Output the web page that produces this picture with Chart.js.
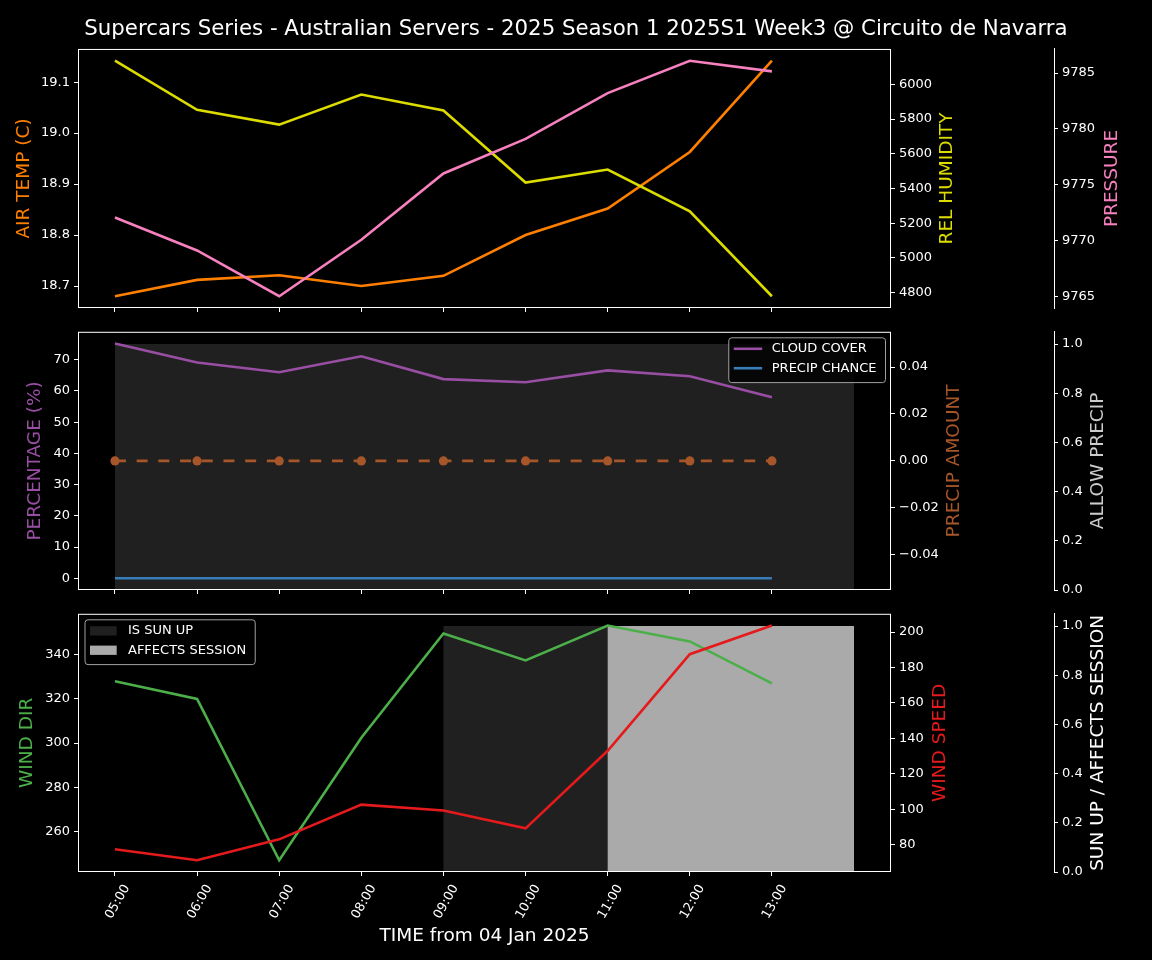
<!DOCTYPE html>
<html lang="en">
<head>
<meta charset="utf-8">
<title>Supercars Series weather</title>
<script src="https://cdn.jsdelivr.net/npm/chart.js@4.4.1/dist/chart.umd.min.js"></script>
<style>
    html, body { margin: 0; padding: 0; background: #000; }
    #board { position: relative; width: 1152px; height: 960px; background: #000; overflow: hidden; }
    #board canvas { position: absolute; left: 0; }
</style>
</head>
<body>
<div id="board">
    <canvas id="chartAir" width="1152" height="320" style="top:0px"></canvas>
    <canvas id="chartPrecip" width="1152" height="282" style="top:320px"></canvas>
    <canvas id="chartWind" width="1152" height="358" style="top:602px"></canvas>
</div>
<script>
'use strict';

// hours shown on the x axis, and the hours the shaded spans run over
var timeLabels = ['05:00', '06:00', '07:00', '08:00', '09:00', '10:00', '11:00', '12:00', '13:00'];
var spanTimes = ['05:00', '06:00', '07:00', '08:00', '09:00', '10:00', '11:00', '12:00', '13:00', '14:00'];

// top panel
var airTemp = [18.68, 18.712, 18.721, 18.70, 18.72, 18.80, 18.852, 18.963, 19.142];
var relHumidity = [6136, 5853, 5768, 5941, 5849, 5434, 5509, 5268, 4779];
var pressure = [9772.05, 9769.1, 9765.0, 9770.06, 9776.0, 9779.1, 9783.2, 9786.1, 9785.15];

// middle panel
var cloudCover = [75.2, 69.1, 66.0, 71.1, 63.8, 62.8, 66.6, 64.7, 58.0];
var precipChance = [0, 0, 0, 0, 0, 0, 0, 0, 0];
var precipAmount = [0, 0, 0, 0, 0, 0, 0, 0, 0];
var allowPrecip = [1, 1, 1, 1, 1, 1, 1, 1, 1, 1];

// bottom panel
var windDir = [328, 320, 247, 302.4, 349.6, 337.4, 353.2, 346, 327];
var windSpeed = [77.4, 71.2, 83, 102.6, 99.3, 89.2, 133, 187.5, 203.7];
var isSunUp = [0, 0, 0, 0, 1, 1, 1, 1, 1, 1];
var affectsSession = [0, 0, 0, 0, 0, 0, 1, 1, 1, 1];

// tick labels
var airTempTicks = [18.7, 18.8, 18.9, 19.0, 19.1];
var humidityTicks = [4800, 5000, 5200, 5400, 5600, 5800, 6000];
var pressureTicks = [9765, 9770, 9775, 9780, 9785];
var percentTicks = [0, 10, 20, 30, 40, 50, 60, 70];
var precipAmountTicks = [-0.04, -0.02, 0, 0.02, 0.04];
var unitTicks = [0, 0.2, 0.4, 0.6, 0.8, 1.0];
var windDirTicks = [260, 280, 300, 320, 340];
var windSpeedTicks = [80, 100, 120, 140, 160, 180, 200];

Chart.defaults.font.family = '"DejaVu Sans", sans-serif';
Chart.defaults.color = '#ffffff';

var startHour = +timeLabels[0].split(':')[0];

function hourOf(t) {
    var p = t.split(':');
    return +p[0] + p[1] / 60 - startHour;
}

function series(times, values) {
    return values.map(function (v, i) {
        return { x: hourOf(times[i]), y: v };
    });
}

// matplotlib style 5% autoscale margin
function padRange(values) {
    var lo = Math.min.apply(null, values), hi = Math.max.apply(null, values);
    var m = (hi - lo) * 0.05;
    return { min: lo - m, max: hi + m };
}

function fmt(v, digits) {
    return v.toFixed(digits).replace('-', '\u2212');
}

var xRange = padRange(spanTimes.map(hourOf));

function timeAxis(showLabels) {
    return {
        type: 'linear',
        min: xRange.min,
        max: xRange.max,
        afterBuildTicks: function (scale) {
            scale.ticks = timeLabels.map(function (t) { return { value: hourOf(t) }; });
        },
        afterFit: function (scale) { scale.height = showLabels ? 88 : 12; },
        ticks: {
            display: showLabels,
            autoSkip: false,
            color: '#ffffff',
            font: { size: 12.8 },
            minRotation: 60,
            maxRotation: 60,
            labelOffset: 12,
            padding: 6,
            callback: function (v, i) { return timeLabels[i]; }
        },
        grid: { drawOnChartArea: false, drawTicks: true, tickLength: 4, tickColor: '#ffffff', color: '#ffffff' },
        border: { display: false },
        title: {
            display: showLabels,
            text: 'TIME from 04 Jan 2025',
            color: '#ffffff',
            font: { size: 18.5 },
            padding: { top: 0, bottom: 13 }
        }
    };
}

function sideAxis(position, weight, width, tickValues, range, digits, spine) {
    return {
        type: 'linear',
        position: position,
        weight: weight,
        min: range.min,
        max: range.max,
        afterBuildTicks: function (scale) {
            scale.ticks = tickValues.map(function (v) { return { value: v }; });
        },
        afterFit: function (scale) { scale.width = width; },
        ticks: {
            color: '#ffffff',
            font: { size: 13 },
            padding: 4,
            callback: function (v) { return fmt(v, digits); }
        },
        grid: { drawOnChartArea: false, drawTicks: true, tickLength: 4, tickColor: '#ffffff', color: '#ffffff' },
        border: { display: spine, color: '#ffffff', width: 1 }
    };
}

function lineSet(label, values, axis, color, order, extra) {
    return Object.assign({
        label: label,
        data: series(timeLabels, values),
        yAxisID: axis,
        borderColor: color,
        backgroundColor: color,
        borderWidth: 2.6,
        pointRadius: 0,
        fill: false,
        tension: 0,
        order: order
    }, extra || {});
}

function spanSet(label, values, axis, color, order) {
    return {
        label: label,
        data: series(spanTimes, values),
        yAxisID: axis,
        backgroundColor: color,
        borderColor: 'rgba(0,0,0,0)',
        borderWidth: 0,
        pointRadius: 0,
        stepped: true,
        fill: 'origin',
        order: order
    };
}

var framePlugin = {
    id: 'frame',
    afterDatasetsDraw: function (chart) {
        var a = chart.chartArea, ctx = chart.ctx;
        ctx.save();
        ctx.strokeStyle = '#ffffff';
        ctx.lineWidth = 1;
        ctx.strokeRect(a.left + 0.5, a.top + 0.5, a.right - a.left - 1, a.bottom - a.top - 1);
        ctx.restore();
    }
};

// vertical axis titles, all reading bottom to top like the original
function sideTitles(items) {
    return {
        id: 'sideTitles',
        afterDraw: function (chart) {
            var ctx = chart.ctx;
            items.forEach(function (item) {
                var s = chart.scales[item.axis];
                ctx.save();
                ctx.translate(s.left + item.offset, (s.top + s.bottom) / 2);
                ctx.rotate(-Math.PI / 2);
                ctx.font = '18.5px "DejaVu Sans"';
                ctx.fillStyle = item.color;
                ctx.textAlign = 'center';
                ctx.textBaseline = 'middle';
                ctx.fillText(item.text, 0, 0);
                ctx.restore();
            });
        }
    };
}

function boxLegend(labels, corner) {
    return {
        id: 'boxLegend',
        afterDraw: function (chart) {
            var ctx = chart.ctx, area = chart.chartArea;
            ctx.save();
            ctx.font = '13px "DejaVu Sans"';
            var textW = Math.max.apply(null, labels.map(function (l) { return ctx.measureText(l).width; }));
            var w = textW + 52, h = labels.length * 19.4 + 6;
            var x = corner === 'left' ? area.left + 7 : area.right - 5.5 - w;
            var y = area.top + 6;
            ctx.beginPath();
            ctx.roundRect(x, y, w, h, 3);
            ctx.fillStyle = 'rgba(0,0,0,0.8)';
            ctx.fill();
            ctx.strokeStyle = '#a0a0a0';
            ctx.lineWidth = 1;
            ctx.stroke();
            labels.forEach(function (label, i) {
                var ds = chart.data.datasets.find(function (d) { return d.label === label; });
                var cy = y + 11 + i * 19.4;
                if (ds.fill) {
                    ctx.fillStyle = ds.backgroundColor;
                    ctx.fillRect(x + 5, cy - 4.6, 26.7, 9.3);
                } else {
                    ctx.strokeStyle = ds.borderColor;
                    ctx.lineWidth = ds.borderWidth;
                    ctx.beginPath();
                    ctx.moveTo(x + 5, cy);
                    ctx.lineTo(x + 33.4, cy);
                    ctx.stroke();
                }
                ctx.fillStyle = '#ffffff';
                ctx.textAlign = 'left';
                ctx.textBaseline = 'middle';
                ctx.fillText(label, x + 43, cy);
            });
            ctx.restore();
        }
    };
}

let weather = {
    makeChart(canvasId, cfg) {
        let extraPlugins = [framePlugin, sideTitles(cfg.titles)];
        if (cfg.legend) {
            extraPlugins.push(cfg.legend);
        }

        return new Chart(document.getElementById(canvasId), {
            type: 'line',
            data: { datasets: cfg.datasets },
            options: {
                responsive: false,
                animation: false,
                devicePixelRatio: 1,
                events: [],
                layout: { padding: { top: cfg.padTop || 0, left: 0, right: 0, bottom: 0 } },
                plugins: {
                    legend: { display: false },
                    tooltip: { enabled: false },
                    title: cfg.title || { display: false }
                },
                scales: cfg.scales
            },
            plugins: extraPlugins
        });
    },

    airPanel() {
        this.makeChart('chartAir', {
            title: {
                display: true,
                text: 'Supercars Series - Australian Servers - 2025 Season 1 2025S1 Week3 @ Circuito de Navarra',
                color: '#ffffff',
                font: { size: 21.3, weight: 'normal' },
                padding: { top: 16.5, bottom: 6.9 }
            },
            datasets: [
                lineSet('AIR TEMP', airTemp, 'yTemp', '#ff7f00', 2),
                lineSet('REL HUMIDITY', relHumidity, 'yHum', '#dcdc00', 1),
                lineSet('PRESSURE', pressure, 'yPres', '#f781bf', 0)
            ],
            scales: {
                x: timeAxis(false),
                yTemp: sideAxis('left', 0, 78, airTempTicks, padRange(airTemp), 1, false),
                yHum: sideAxis('right', 0, 163, humidityTicks, padRange(relHumidity), 0, false),
                yPres: sideAxis('right', 1, 98, pressureTicks, padRange(pressure), 0, true)
            },
            titles: [
                { axis: 'yTemp', text: 'AIR TEMP (C)', color: '#ff7f00', offset: 24 },
                { axis: 'yHum', text: 'REL HUMIDITY', color: '#dcdc00', offset: 56 },
                { axis: 'yPres', text: 'PRESSURE', color: '#f781bf', offset: 58 }
            ]
        });
    },

    precipPanel() {
        this.makeChart('chartPrecip', {
            padTop: 11,
            datasets: [
                lineSet('CLOUD COVER', cloudCover, 'yPct', '#984ea3', 1),
                lineSet('PRECIP CHANCE', precipChance, 'yPct', '#377eb8', 2),
                lineSet('PRECIP AMOUNT', precipAmount, 'yAmt', '#a65628', 0, {
                    borderDash: [11, 10.7],
                    pointRadius: 4.6,
                    pointBorderWidth: 0,
                    pointBackgroundColor: '#a65628'
                }),
                spanSet('ALLOW PRECIP', allowPrecip, 'yAllow', '#202020', 10)
            ],
            scales: {
                x: timeAxis(false),
                yPct: sideAxis('left', 0, 78, percentTicks, padRange(cloudCover.concat(precipChance)), 0, false),
                yAmt: sideAxis('right', 0, 163, precipAmountTicks, { min: -0.055, max: 0.055 }, 2, false),
                yAllow: sideAxis('right', 1, 98, unitTicks, { min: 0, max: 1.05 }, 1, true)
            },
            titles: [
                { axis: 'yPct', text: 'PERCENTAGE (%)', color: '#984ea3', offset: 35.3 },
                { axis: 'yAmt', text: 'PRECIP AMOUNT', color: '#a65628', offset: 63.5 },
                { axis: 'yAllow', text: 'ALLOW PRECIP', color: '#cccccc', offset: 44 }
            ],
            legend: boxLegend(['CLOUD COVER', 'PRECIP CHANCE'], 'right')
        });
    },

    windPanel() {
        this.makeChart('chartWind', {
            padTop: 11,
            datasets: [
                lineSet('WIND DIR', windDir, 'yDir', '#4daf4a', 1),
                lineSet('WIND SPEED', windSpeed, 'ySpd', '#e41a1c', 0),
                spanSet('AFFECTS SESSION', affectsSession, 'ySun', '#aaaaaa', 10),
                spanSet('IS SUN UP', isSunUp, 'ySun', '#202020', 11)
            ],
            scales: {
                x: timeAxis(true),
                yDir: sideAxis('left', 0, 78, windDirTicks, padRange(windDir), 0, false),
                ySpd: sideAxis('right', 0, 163, windSpeedTicks, padRange(windSpeed), 0, false),
                ySun: sideAxis('right', 1, 98, unitTicks, { min: 0, max: 1.05 }, 1, true)
            },
            titles: [
                { axis: 'yDir', text: 'WIND DIR', color: '#4daf4a', offset: 26.7 },
                { axis: 'ySpd', text: 'WIND SPEED', color: '#e41a1c', offset: 49.5 },
                { axis: 'ySun', text: 'SUN UP / AFFECTS SESSION', color: '#ffffff', offset: 44 }
            ],
            legend: boxLegend(['IS SUN UP', 'AFFECTS SESSION'], 'left')
        });
    }
};

weather.airPanel();
weather.precipPanel();
weather.windPanel();
</script>
</body>
</html>
